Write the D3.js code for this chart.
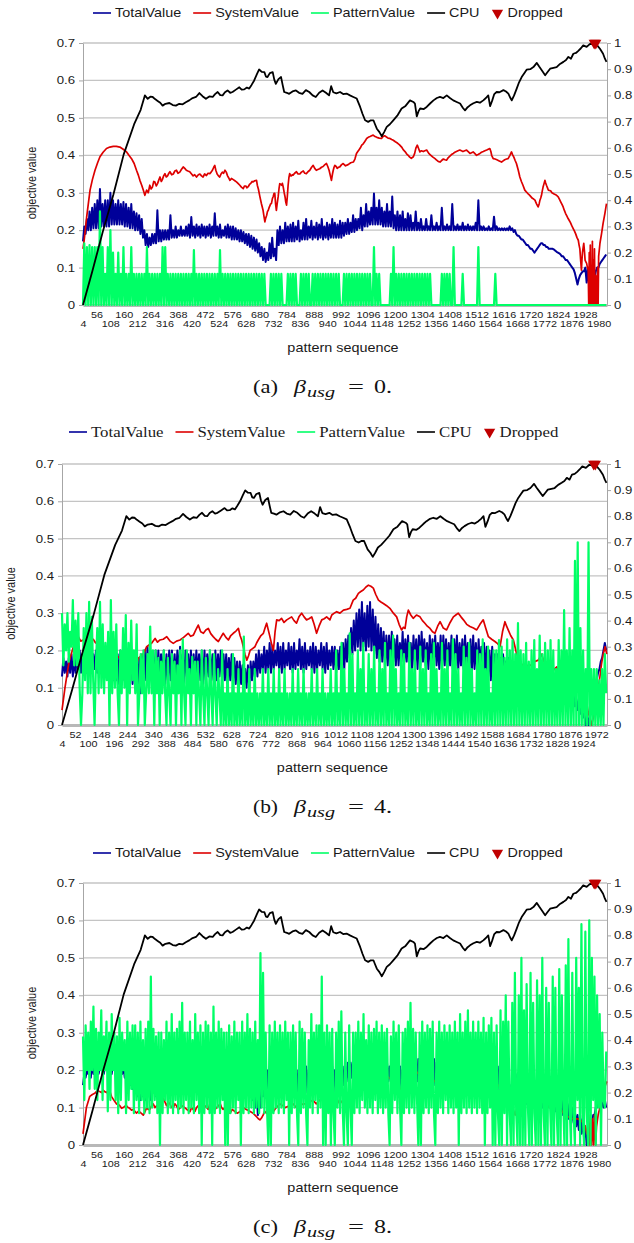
<!DOCTYPE html>
<html>
<head>
<meta charset="utf-8">
<script src="https://cdn.jsdelivr.net/npm/d3@7"></script>
<style>
  body { margin: 0; background: #fff; }
  svg { display: block; }
</style>
</head>
<body>
<svg id="chart" width="634" height="1243"></svg>
<script>
// ---------------------------------------------------------------
// Data. Categories are pattern sequence numbers (4 .. ~2010).
// Left axis: objective value (0 .. 0.7); right axis: CPU (0 .. 1).
// Dense series are sampled every 5 patterns starting at pattern 4
// (one row = 200 patterns).
// ---------------------------------------------------------------
const seriesNames = ["TotalValue", "SystemValue", "PatternValue", "CPU", "Dropped"];
const leftTicks = [0, .1, .2, .3, .4, .5, .6, .7];
const rightTicks = [0, .1, .2, .3, .4, .5, .6, .7, .8, .9, 1];
const ticksAC = [4,56,108,160,212,264,316,368,420,472,524,576,628,680,732,784,836,888,940,992,1044,1096,1148,1200,1252,1304,1356,1408,1460,1512,1564,1616,1668,1720,1772,1824,1876,1928,1980];
const ticksB = [4,52,100,148,196,244,292,340,388,436,484,532,580,628,676,724,772,820,868,916,964,1012,1060,1108,1156,1204,1252,1300,1348,1396,1444,1492,1540,1588,1636,1684,1732,1780,1828,1876,1924,1972];

// CPU load (right axis), identical in the three runs: [pattern, load]
const cpuPoints = [[4,0],[40,.13],[80,.28],[120,.42],[160,.575],[200,.69],[225,.745],[241,.8],[252,.787],[262,.795],[271,.794],[280,.786],[290,.779],[300,.772],[309,.761],[320,.768],[335,.771],[348,.763],[360,.761],[373,.768],[386,.766],[398,.774],[411,.781],[424,.79],[437,.794],[450,.809],[462,.797],[475,.787],[488,.796],[501,.794],[510,.805],[520,.813],[530,.801],[539,.8],[548,.812],[558,.819],[568,.81],[577,.813],[590,.822],[603,.831],[612,.822],[622,.823],[632,.83],[641,.826],[650,.84],[660,.857],[670,.88],[679,.899],[689,.89],[699,.889],[705,.872],[711,.87],[720,.885],[731,.889],[737,.86],[743,.844],[753,.862],[763,.87],[769,.84],[775,.813],[785,.81],[794,.806],[807,.815],[820,.819],[832,.81],[845,.806],[858,.82],[871,.813],[884,.8],[896,.794],[909,.81],[922,.819],[935,.81],[947,.8],[955,.835],[963,.812],[975,.808],[989,.813],[1001,.805],[1014,.807],[1027,.8],[1040,.794],[1053,.788],[1066,.756],[1075,.73],[1085,.705],[1097,.699],[1107,.705],[1117,.705],[1123,.69],[1130,.673],[1140,.66],[1149,.644],[1158,.66],[1168,.68],[1180,.69],[1193,.705],[1210,.725],[1225,.75],[1240,.76],[1257,.781],[1270,.775],[1276,.769],[1283,.72],[1290,.74],[1296,.75],[1310,.748],[1321,.756],[1335,.77],[1347,.781],[1360,.79],[1372,.794],[1385,.79],[1398,.8],[1410,.79],[1423,.781],[1436,.775],[1449,.769],[1460,.752],[1468,.743],[1478,.755],[1487,.762],[1500,.77],[1513,.775],[1525,.772],[1538,.781],[1548,.79],[1557,.8],[1564,.759],[1572,.78],[1580,.805],[1589,.813],[1600,.812],[1615,.82],[1625,.815],[1634,.807],[1642,.79],[1647,.781],[1656,.8],[1666,.826],[1675,.85],[1685,.87],[1695,.885],[1704,.898],[1718,.9],[1730,.908],[1743,.924],[1752,.91],[1762,.896],[1775,.877],[1785,.89],[1794,.902],[1807,.905],[1819,.908],[1832,.92],[1845,.928],[1855,.935],[1864,.947],[1874,.94],[1883,.959],[1893,.962],[1902,.97],[1912,.98],[1921,.991],[1934,.985],[1947,.997],[1958,.995],[1966,1],[1975,.99],[1985,.978],[1997,.959],[2004,.94],[2010,.928]];

// patterns dropped (drawn at full CPU load)
const droppedPatterns = [1963, 1969];

// ----- run (a), beta_usg = 0 -----
const totalA = [
  .17,.21,.19,.23,.2,.25,.2,.26,.205,.27, .205,.28,.205,.31,.21,.27,.21,.28,.21,.28, .21,.3,.215,.28,.215,.27,.215,.28,.215,.27, .215,.275,.21,.27,.21,.26,.205,.27,.205,.25,
  .2,.245,.2,.24,.19,.23,.18,.2,.16,.19, .155,.18,.16,.19,.165,.19,.165,.253,.17,.2, .17,.2,.175,.2,.175,.2,.175,.24,.18,.2, .18,.21,.18,.2,.185,.21,.185,.2,.185,.21,
  .185,.215,.18,.235,.185,.21,.18,.215,.185,.21, .18,.215,.185,.21,.18,.21,.185,.215,.18,.21, .185,.245,.185,.21,.18,.215,.18,.2,.185,.21, .18,.215,.18,.21,.175,.21,.175,.205,.175,.2,
  .17,.2,.17,.195,.165,.19,.16,.19,.155,.185, .15,.18,.145,.175,.14,.165,.13,.155,.12,.15, .115,.14,.12,.165,.125,.18,.13,.15,.12,.2, .16,.21,.165,.2,.165,.22,.17,.21,.17,.215,
  .17,.22,.17,.21,.175,.225,.17,.2,.175,.22, .175,.23,.175,.21,.18,.225,.175,.21,.18,.22, .175,.215,.18,.23,.175,.21,.18,.22,.175,.215, .18,.23,.18,.22,.18,.215,.18,.225,.18,.22,
  .185,.22,.19,.23,.19,.22,.195,.24,.195,.23, .2,.23,.205,.26,.2,.24,.21,.27,.21,.25, .215,.26,.215,.298,.215,.26,.215,.28,.215,.26, .21,.25,.21,.27,.21,.25,.21,.29,.205,.24,
  .2,.25,.2,.24,.2,.25,.2,.23,.2,.245, .2,.24,.2,.22,.2,.25,.2,.22,.2,.23, .2,.21,.2,.23,.2,.21,.2,.24,.2,.21, .2,.22,.2,.21,.2,.26,.2,.21,.2,.215,
  .2,.21,.2,.27,.2,.21,.2,.215,.2,.21, .2,.22,.2,.21,.2,.215,.2,.21,.2,.21, .2,.22,.2,.28,.2,.21,.2,.21,.2,.205, .2,.21,.2,.205,.2,.236,.2,.21,.2,.205,
  .2,.205,.2,.205,.2,.205,.2,.21,.2,.205, .195,.2,.19,.185,.185,.18,.175,.175,.17,.165, .16,.16,.155,.15,.15,.145,.14,.145,.15,.155, .16,.165,.165,.16,.16,.155,.155,.15,.15,.15,
  .15,.148,.145,.142,.14,.138,.135,.13,.13,.125, .12,.12,.115,.11,.105,.1,.095,.085,.07,.055, .07,.08,.085,.09,.09,.1,.06,.1,.05,.09, .06,.1,.07,.09,.1,.1,.11,.115,.12,.125,
  .13,.135];
const systemA = [[4,.15],[8,.17],[18,.235],[31,.307],[40,.335],[50,.36],[60,.38],[69,.396],[81,.408],[94,.418],[107,.422],[120,.424],[132,.424],[145,.422],[158,.416],[171,.409],[180,.4],[190,.391],[200,.378],[209,.36],[216,.347],[222,.333],[229,.32],[235,.307],[241,.293],[248,.307],[254,.3],[260,.32],[265,.31],[270,.315],[275,.33],[279,.329],[285,.318],[290,.325],[295,.335],[299,.342],[304,.33],[308,.335],[313,.345],[318,.351],[323,.342],[328,.345],[333,.352],[337,.356],[344,.348],[350,.35],[356,.358],[362,.36],[368,.352],[375,.355],[381,.362],[388,.369],[394,.365],[400,.36],[406,.358],[413,.356],[420,.35],[426,.345],[432,.348],[439,.342],[446,.348],[452,.35],[458,.345],[464,.342],[470,.35],[477,.346],[483,.352],[490,.351],[495,.355],[500,.36],[505,.368],[509,.373],[513,.36],[518,.35],[523,.345],[528,.342],[533,.35],[538,.355],[543,.352],[548,.36],[553,.355],[558,.345],[562,.34],[567,.333],[573,.338],[580,.335],[586,.332],[592,.329],[598,.325],[605,.32],[611,.315],[618,.311],[623,.318],[628,.318],[632,.313],[637,.316],[642,.322],[647,.325],[652,.33],[656,.329],[662,.332],[669,.333],[672,.32],[676,.31],[682,.289],[688,.27],[694,.253],[698,.235],[701,.222],[704,.232],[708,.24],[711,.25],[714,.253],[717,.26],[720,.265],[723,.27],[726,.271],[730,.285],[733,.29],[736,.298],[739,.298],[742,.27],[745,.253],[748,.27],[752,.29],[755,.31],[758,.324],[762,.322],[765,.32],[768,.325],[771,.316],[775,.3],[778,.29],[781,.275],[784,.267],[787,.29],[790,.32],[793,.34],[796,.351],[800,.345],[803,.345],[806,.348],[809,.347],[815,.352],[822,.356],[828,.35],[835,.35],[841,.355],[848,.358],[854,.352],[860,.351],[866,.356],[873,.36],[880,.368],[886,.373],[892,.365],[898,.36],[904,.362],[911,.364],[918,.368],[924,.37],[931,.375],[937,.378],[942,.37],[947,.36],[952,.345],[956,.333],[960,.35],[963,.36],[966,.368],[969,.373],[974,.37],[978,.365],[983,.368],[988,.369],[995,.375],[1001,.378],[1010,.372],[1020,.375],[1030,.38],[1040,.382],[1046,.39],[1052,.405],[1057,.41],[1062,.415],[1067,.42],[1072,.427],[1077,.43],[1082,.435],[1087,.44],[1091,.445],[1097,.448],[1104,.45],[1110,.452],[1116,.454],[1123,.45],[1130,.448],[1139,.446],[1148,.445],[1154,.45],[1160,.452],[1167,.449],[1173,.446],[1180,.445],[1187,.442],[1193,.44],[1201,.436],[1210,.432],[1217,.428],[1225,.422],[1231,.415],[1238,.41],[1244,.404],[1250,.4],[1256,.395],[1262,.392],[1266,.394],[1270,.396],[1275,.405],[1280,.42],[1285,.427],[1290,.418],[1295,.409],[1301,.412],[1308,.41],[1314,.412],[1321,.414],[1329,.405],[1337,.4],[1345,.395],[1353,.391],[1358,.388],[1363,.385],[1368,.383],[1372,.382],[1378,.386],[1385,.39],[1391,.388],[1397,.387],[1404,.394],[1410,.398],[1416,.402],[1423,.405],[1429,.408],[1435,.41],[1441,.412],[1448,.414],[1454,.412],[1460,.41],[1467,.412],[1474,.414],[1480,.41],[1487,.405],[1493,.407],[1499,.409],[1505,.405],[1512,.4],[1518,.402],[1525,.405],[1531,.408],[1538,.41],[1544,.412],[1551,.414],[1557,.416],[1563,.418],[1567,.41],[1570,.4],[1576,.391],[1583,.39],[1590,.388],[1599,.385],[1608,.382],[1614,.385],[1620,.388],[1627,.39],[1633,.391],[1640,.4],[1646,.409],[1650,.402],[1655,.395],[1660,.386],[1665,.378],[1672,.36],[1678,.342],[1684,.33],[1690,.32],[1697,.307],[1702,.303],[1706,.3],[1711,.296],[1716,.293],[1721,.289],[1726,.285],[1731,.283],[1736,.28],[1739,.275],[1742,.27],[1745,.266],[1748,.262],[1752,.27],[1755,.28],[1758,.286],[1761,.293],[1764,.305],[1767,.315],[1771,.325],[1774,.333],[1777,.326],[1780,.32],[1784,.313],[1787,.307],[1792,.306],[1796,.305],[1801,.3],[1806,.298],[1811,.296],[1815,.295],[1820,.292],[1825,.289],[1830,.282],[1835,.275],[1840,.268],[1844,.262],[1849,.252],[1853,.245],[1858,.238],[1863,.231],[1868,.225],[1872,.22],[1877,.212],[1882,.205],[1887,.198],[1892,.19],[1897,.18],[1902,.173],[1905,.16],[1908,.15],[1911,.12],[1914,.093],[1916,.12],[1918,.14],[1921,.155],[1923,.165],[1926,.14],[1928,.12],[1931,.115],[1934,.111],[1937,.1],[1940,.093],[1942,0],[1944,.14],[1946,0],[1948,.16],[1950,0],[1952,.09],[1954,0],[1956,.17],[1958,0],[1960,.12],[1962,0],[1964,.15],[1966,0],[1968,.08],[1970,0],[1972,.076],[1974,0],[1976,.1],[1978,0],[1980,.13],[1985,.165],[1991,.19],[1997,.218],[2004,.245],[2010,.271]];
const patternA = [
  0,.165,0,.155,0,.16,0,.155,0,.155, 0,.155,0,.25,0,.155,0,.083,0,.155, 0,.2,0,.14,0,.083,0,.14,0,.083, 0,.155,0,.083,0,.083,0,.155,0,.083,
  0,.083,0,.083,0,.083,0,.083,0,.155, 0,.083,0,.083,0,.083,0,.083,0,.083, 0,.155,0,.155,0,.083,0,.083,0,.083, 0,.083,0,.083,0,.083,0,.083,0,.083,
  0,.083,0,.083,0,.147,0,.083,0,.083, 0,.083,0,.083,0,.083,0,.083,0,.083, 0,.083,0,.083,0,.147,0,.083,0,.083, 0,.083,0,.083,0,.083,0,.083,0,.083,
  0,.083,0,.083,0,.083,0,.083,0,.083, 0,.083,0,.083,0,.083,0,.083,0,.083, 0,0,0,0,.083,0,.083,0,.083,0, .083,0,.083,0,0,0,0,.083,0,.083,
  0,.083,0,.083,0,0,0,.083,0,.083, 0,.083,0,.083,0,0,.083,0,.083,0, .083,0,.083,0,.083,0,.083,0,.083,0, .083,0,.083,0,.083,0,.083,0,0,0,
  .083,0,.083,0,.083,0,.083,0,.083,0, .083,0,.083,0,.083,0,.083,0,.083,0, .083,0,0,.155,0,.083,0,.083,0,0, 0,0,0,0,0,0,.083,0,.155,0,
  .083,0,.083,0,.083,0,.083,0,.083,0, .083,0,.083,0,.083,0,.083,0,.083,0, .083,0,.083,0,.083,0,.083,0,0,0, 0,0,0,0,0,.083,0,.083,0,.083,
  0,.083,0,0,.155,0,0,0,0,0, 0,.083,0,0,0,0,0,0,0,0, 0,0,0,.155,0,0,0,0,0,0, 0,0,0,0,0,0,.083,0,0,0,
  0,0,0,0,0,0,0,0,0,0, 0,0,0,0,0,0,0,0,0,0, 0,0,0,0,0,0,0,0,0,0, 0,0,0,0,0,0,0,0,0,0,
  0,0,0,0,0,0,0,0,0,0, 0,0,0,0,0,0,0,0,0,0, 0,0,0,0,0,0,0,0,0,0, 0,0,0,0,0,0,0,0,0,0,
  0,0];

// ----- run (b), beta_usg = 4 -----
const totalB = [
  .13,.18,.14,.17,.13,.18,.14,.19,.13,.18, .14,.19,.15,.2,.14,.19,.15,.2,.14,.19, .15,.2,.14,.19,.15,.2,.14,.19,.15,.2, .13,.19,.14,.2,.13,.19,.14,.19,.12,.18,
  .12,.19,.11,.2,.13,.19,.12,.18,.11,.19, .12,.2,.11,.19,.12,.19,.1,.18,.085,.19, .11,.2,.12,.21,.12,.2,.13,.19,.11,.2, .12,.2,.13,.19,.12,.2,.11,.19,.12,.2,
  .12,.2,.11,.19,.12,.2,.13,.21,.12,.19, .11,.2,.13,.19,.12,.2,.11,.19,.12,.2, .13,.19,.12,.2,.11,.2,.12,.19,.13,.2, .12,.19,.11,.2,.12,.19,.13,.2,.12,.19,
  .12,.19,.11,.18,.12,.19,.11,.18,.11,.17, .1,.17,.11,.16,.1,.15,.1,.16,.1,.17, .12,.17,.13,.19,.13,.2,.14,.19,.15,.21, .14,.2,.15,.22,.14,.21,.15,.2,.16,.22,
  .15,.21,.14,.22,.15,.2,.16,.22,.15,.21, .14,.22,.15,.2,.16,.23,.15,.21,.14,.22, .15,.2,.16,.21,.15,.22,.14,.21,.15,.2, .16,.22,.15,.21,.14,.22,.15,.2,.16,.21,
  .15,.21,.14,.2,.15,.21,.14,.22,.15,.23, .17,.24,.18,.26,.19,.28,.2,.3,.21,.31, .2,.33,.21,.3,.2,.32,.21,.33,.2,.31, .19,.29,.18,.27,.17,.26,.17,.25,.16,.24,
  .16,.24,.16,.25,.17,.23,.16,.24,.16,.22, .17,.25,.16,.23,.17,.24,.16,.22,.15,.24, .16,.23,.15,.24,.16,.25,.17,.23,.16,.22, .15,.24,.16,.23,.17,.24,.16,.22,.15,.24,
  .15,.24,.16,.23,.15,.22,.16,.24,.15,.23, .16,.24,.15,.22,.16,.23,.15,.24,.16,.22, .15,.23,.14,.24,.15,.22,.14,.23,.15,.21, .14,.22,.13,.21,.13,.2,.12,.21,.12,.19,
  .12,.19,.13,.18,.12,.19,.13,.17,.12,.18, .12,.16,.11,.15,.1,.15,.1,.14,.09,.13, .09,.12,.08,.12,.085,.11,.09,.12,.085,.11, .09,.12,.08,.11,.09,.12,.08,.11,.09,.12,
  .09,.12,.08,.11,.09,.12,.08,.1,.07,.1, .07,.09,.06,.09,.06,.08,.05,.08,.05,.07, .04,.07,.03,.05,.02,.03,0,.02,0,.03, .05,.07,.08,.1,.12,.14,.15,.17,.18,.2,
  .22,.2];
const systemB = [[4,.04],[15,.1],[30,.17],[46,.21],[55,.225],[64,.237],[73,.225],[82,.228],[92,.22],[101,.224],[110,.232],[119,.23],[128,.22],[137,.224],[146,.215],[156,.21],[165,.205],[174,.2],[183,.195],[193,.19],[205,.185],[217,.18],[226,.17],[236,.165],[245,.16],[254,.156],[263,.158],[273,.152],[279,.165],[285,.179],[294,.185],[304,.19],[310,.2],[316,.21],[325,.215],[334,.219],[340,.225],[347,.232],[356,.222],[365,.228],[377,.23],[390,.237],[402,.225],[414,.219],[426,.225],[439,.228],[452,.235],[469,.246],[478,.238],[488,.241],[497,.255],[506,.268],[515,.25],[525,.246],[534,.255],[543,.259],[552,.245],[561,.237],[570,.23],[580,.224],[589,.235],[598,.246],[608,.235],[617,.228],[626,.24],[635,.246],[645,.252],[654,.259],[660,.24],[666,.228],[672,.21],[678,.19],[685,.174],[691,.185],[697,.2],[706,.205],[715,.21],[721,.22],[727,.228],[737,.24],[746,.246],[752,.26],[758,.273],[764,.255],[770,.237],[777,.215],[783,.2],[789,.25],[795,.282],[804,.28],[813,.286],[822,.275],[832,.282],[841,.286],[850,.29],[859,.28],[868,.273],[877,.29],[887,.3],[896,.29],[905,.282],[914,.285],[924,.29],[933,.27],[942,.246],[951,.265],[961,.282],[970,.285],[979,.29],[991,.282],[998,.295],[1007,.3],[1016,.304],[1028,.3],[1041,.308],[1053,.31],[1065,.313],[1077,.335],[1086,.34],[1096,.353],[1105,.358],[1114,.362],[1124,.37],[1133,.375],[1142,.372],[1151,.367],[1160,.35],[1170,.335],[1179,.33],[1188,.326],[1200,.32],[1212,.313],[1225,.3],[1237,.29],[1246,.27],[1255,.255],[1262,.262],[1268,.259],[1274,.29],[1280,.308],[1289,.295],[1298,.286],[1310,.295],[1323,.29],[1332,.28],[1341,.273],[1350,.265],[1360,.259],[1369,.25],[1378,.246],[1388,.265],[1397,.277],[1409,.26],[1421,.255],[1434,.275],[1446,.29],[1455,.295],[1464,.3],[1474,.29],[1483,.282],[1495,.27],[1507,.264],[1520,.26],[1532,.255],[1544,.27],[1556,.282],[1565,.26],[1575,.237],[1587,.23],[1599,.224],[1609,.218],[1618,.21],[1627,.25],[1636,.277],[1642,.265],[1648,.255],[1657,.24],[1667,.228],[1673,.21],[1679,.19],[1692,.17],[1710,.15],[1720,.16],[1730,.16],[1745,.17],[1759,.174],[1771,.19],[1780,.17],[1790,.152],[1799,.145],[1808,.139],[1818,.15],[1827,.156],[1833,.14],[1839,.13],[1851,.125],[1863,.121],[1870,.14],[1876,.15],[1888,.12],[1900,.1],[1912,.09],[1925,.076],[1937,.06],[1944,.03],[1950,.02],[1955,0],[1962,.02],[1968,.04],[1974,.07],[1980,.1],[1986,.13],[1992,.165],[1998,.19],[2005,.21],[2011,.19]];
const patternB = [
  .3,.16,.27,.2,.3,.17,.25,.21,.335,.16, .28,.16,.3,.1,0,.085,.26,.12,.3,.085, .33,.085,.29,.12,0,.16,.26,.085,.33,.1, .27,.085,.22,.12,.25,0,.335,.085,.25,.1,
  .27,.085,0,.2,.085,.26,.1,.295,0,.22, .085,.28,.12,.2,.085,.27,0,.085,.19,.085, .2,0,.085,.19,.085,.264,.085,.2,0,.2, .085,.18,0,.17,.085,.2,.085,0,.18,.085,
  0,.19,.085,.17,0,.16,.085,.2,0,.23, .085,0,.2,.085,.15,0,.183,.085,.17,0, .17,.085,0,.2,.085,0,.18,.085,0,.2, .085,0,.19,.085,0,.15,.085,0,.2,0,
  .085,0,.15,0,.085,0,.19,0,.085,0, .15,0,.085,0,.237,0,.085,0,.15,0, .085,0,.15,0,.085,0,.085,0,.15,0, .085,0,.15,0,.085,0,.15,0,.085,0,
  .15,0,.085,0,.15,0,.085,0,.085,0, .15,0,.085,0,.15,0,.085,0,.15,0, .085,0,.085,0,.15,0,.085,0,.15,0, .085,0,.15,0,.085,0,.085,0,.15,0,
  .085,0,.2,0,.085,0,.22,0,.15,0, .085,0,.246,0,.19,0,.085,0,.2,0, .15,0,.22,0,.085,0,.19,0,.15,0, .21,0,.085,0,.2,0,.15,0,.22,0,
  .085,0,.2,0,.24,0,.15,0,.085,0, .2,0,.19,0,.085,0,.22,0,.15,0, .2,0,.085,0,.21,0,.15,0,.2,0, .085,0,.19,0,.22,0,.15,0,.085,0,
  .22,0,.15,0,.2,0,.085,0,.23,0, .19,0,.15,0,.085,0,.21,0,.18,0, .22,0,.15,0,.085,0,.2,0,.19,0, .23,0,.15,0,.21,0,.085,0,.2,0,
  .2,0,.228,0,.21,0,.18,0,.23,0, .2,0,.228,0,.19,0,.273,0,.2,0, .19,0,.22,0,.17,0,.2,0,.228,0, .15,0,.24,0,.19,0,.22,0,.2,0,
  .228,0,.2,0,.15,0,.228,0,.2,0, .308,0,.2,0,.26,0,.2,0,.44,0, .49,0,.26,0,.2,0,.15,0,.49,0, .15,0,.15,0,.15,0,.12,0,.15,0,
  .19,.085];

// ----- run (c), beta_usg = 8 -----
const totalC = [
  .16,.19,.18,.2,.19,.21,.18,.22,.19,.21, .2,.22,.19,.21,.2,.22,.19,.215,.2,.22, .2,.236,.19,.22,.2,.21,.19,.22,.185,.215, .19,.21,.18,.2,.17,.205,.16,.2,.15,.2,
  .14,.19,.13,.18,.12,.2,.13,.19,.12,.2, .13,.21,.12,.19,.14,.2,.13,.21,.14,.2, .15,.21,.14,.2,.15,.21,.14,.2,.15,.21, .14,.2,.15,.21,.14,.2,.15,.21,.14,.2,
  .14,.2,.15,.21,.14,.2,.15,.19,.14,.2, .15,.21,.14,.2,.15,.21,.14,.19,.15,.2, .14,.21,.15,.2,.14,.2,.15,.21,.14,.2, .15,.19,.14,.2,.15,.21,.14,.2,.15,.2,
  .14,.2,.15,.21,.14,.2,.15,.19,.13,.18, .12,.17,.1,.15,.08,.12,.1,.16,.13,.19, .14,.2,.15,.21,.14,.2,.15,.21,.14,.2, .15,.21,.14,.2,.15,.21,.14,.2,.15,.21,
  .14,.2,.15,.21,.14,.2,.15,.21,.14,.2, .15,.21,.14,.2,.15,.21,.14,.2,.15,.21, .14,.2,.15,.21,.14,.2,.15,.21,.14,.2, .15,.21,.14,.2,.15,.21,.15,.21,.16,.21,
  .16,.21,.17,.22,.17,.22,.18,.23,.18,.23, .19,.24,.2,.25,.21,.26,.21,.25,.2,.26, .21,.25,.2,.24,.2,.24,.19,.23,.19,.23, .18,.22,.18,.22,.17,.21,.17,.21,.16,.2,
  .16,.22,.15,.21,.15,.2,.14,.2,.16,.23, .17,.24,.17,.22,.16,.21,.17,.23,.16,.22, .17,.21,.16,.23,.17,.22,.16,.21,.17,.23, .16,.22,.17,.23,.16,.21,.17,.22,.16,.23,
  .17,.22,.16,.23,.17,.21,.16,.22,.17,.23, .16,.22,.17,.21,.16,.22,.17,.23,.16,.22, .17,.21,.16,.22,.17,.23,.16,.22,.17,.21, .16,.22,.17,.21,.16,.2,.15,.2,.15,.21,
  .14,.2,.14,.19,.13,.18,.12,.16,.1,.15, .12,.17,.13,.19,.12,.18,.13,.19,.12,.17, .11,.18,.12,.16,.11,.17,.12,.16,.11,.16, .11,.16,.1,.15,.1,.15,.1,.14,.1,.15,
  .1,.14,.09,.13,.1,.14,.09,.12,.08,.13, .07,.12,.07,.11,.06,.1,.06,.09,.05,.08, .04,.08,.03,.07,.02,.05,0,.04,.02,.05, .06,.08,.08,.1,.1,.12,.11,.12,.11,.1,
  .12,.1];
const systemC = [[4,.03],[17,.1],[30,.13],[40,.135],[49,.138],[58,.145],[68,.143],[75,.14],[81,.147],[88,.142],[94,.14],[100,.145],[105,.148],[113,.13],[122,.12],[132,.11],[140,.108],[145,.105],[152,.098],[158,.1],[165,.104],[170,.105],[177,.1],[183,.098],[190,.093],[196,.095],[203,.09],[209,.085],[216,.09],[222,.088],[229,.084],[235,.08],[242,.09],[248,.1],[254,.095],[260,.095],[267,.105],[273,.11],[280,.1],[286,.105],[293,.095],[299,.1],[305,.11],[312,.125],[318,.115],[324,.105],[331,.115],[337,.11],[344,.1],[350,.1],[356,.11],[362,.105],[369,.095],[375,.098],[383,.105],[390,.102],[402,.095],[414,.089],[420,.1],[426,.095],[433,.09],[439,.1],[446,.105],[452,.11],[458,.1],[465,.095],[471,.105],[478,.1],[484,.095],[490,.11],[497,.115],[503,.105],[510,.095],[516,.1],[523,.105],[530,.11],[535,.1],[541,.095],[548,.1],[555,.1],[561,.09],[567,.085],[576,.095],[585,.09],[595,.085],[605,.089],[618,.1],[630,.095],[643,.09],[656,.085],[663,.08],[670,.075],[676,.07],[682,.067],[688,.072],[694,.08],[700,.09],[707,.085],[714,.095],[720,.1],[726,.095],[733,.089],[739,.095],[745,.1],[752,.105],[758,.11],[770,.105],[780,.1],[795,.105],[809,.11],[822,.1],[835,.105],[848,.11],[860,.11],[872,.115],[885,.12],[898,.11],[911,.12],[923,.125],[935,.115],[948,.12],[962,.12],[976,.125],[988,.11],[1000,.12],[1016,.13],[1028,.14],[1040,.15],[1052,.16],[1065,.18],[1078,.2],[1091,.23],[1100,.235],[1110,.24],[1120,.23],[1130,.22],[1140,.21],[1150,.2],[1162,.19],[1175,.18],[1188,.175],[1200,.17],[1212,.16],[1225,.143],[1238,.14],[1250,.13],[1262,.16],[1276,.2],[1290,.19],[1305,.17],[1320,.16],[1335,.165],[1350,.17],[1365,.18],[1380,.175],[1390,.165],[1400,.17],[1415,.175],[1430,.18],[1445,.175],[1460,.17],[1475,.16],[1490,.165],[1505,.18],[1520,.19],[1535,.18],[1550,.17],[1565,.165],[1580,.17],[1595,.16],[1610,.15],[1625,.14],[1640,.13],[1650,.1],[1660,.08],[1670,.11],[1680,.13],[1690,.15],[1705,.16],[1718,.145],[1730,.13],[1745,.125],[1760,.12],[1775,.11],[1790,.1],[1805,.105],[1820,.11],[1835,.095],[1850,.08],[1865,.075],[1880,.07],[1900,.07],[1912,.065],[1920,.06],[1928,.05],[1935,.03],[1940,.06],[1944,0],[1948,.08],[1952,0],[1956,.07],[1960,0],[1964,.08],[1968,0],[1972,.05],[1978,.08],[1985,.1],[1992,.13],[2000,.15],[2006,.16],[2011,.17]];
const patternC = [
  .29,.12,.32,.2,.3,.15,.33,.2,.37,.15, .31,.12,.3,.2,.36,.12,.29,.2,.33,.09, .3,.12,.35,.2,.3,.12,.29,.085,.34,.12, .3,.2,.28,.085,.33,.12,.3,.15,.32,.085,
  .32,.12,.3,.085,.33,.12,.28,.085,.31,.1, .33,.085,.45,.1,.31,.12,.29,.085,.3,0, .3,.085,.28,.12,.33,.085,.3,.1,.35,.085, .3,.12,.31,.085,.33,.1,.38,.085,.3,.12,
  .3,.085,.33,.1,.28,.085,.35,.12,.3,.085, .32,0,.3,.085,.33,.1,.32,.085,.3,0, .37,.085,.3,.1,.33,.085,.31,.12,.3,0, .3,0,.32,.085,.29,.1,.33,.085,.3,.12,
  .3,0,.33,.085,.3,.1,.35,.085,.31,.1, .3,.085,.33,.1,.28,.085,.513,.1,.46,.085, .3,.1,0,.32,0,.3,.085,.33,.1,.3, .085,.32,.1,.3,.085,.33,.12,.3,0,.3,
  .085,.32,.1,.3,.085,0,.33,.085,.31,.1, .3,.085,0,.28,.1,.35,.085,.3,.12,.32, .085,.32,.1,.45,0,.3,0,.32,.085,.3, 0,.31,.085,0,.3,.1,.33,.085,.357,.1,
  0,.3,.085,0,.32,.1,0,.3,.085,.3, .1,.33,.085,.3,.12,.35,.1,.28,.085,.32, .1,.3,.085,.31,.12,.33,.085,.3,.1,.32, .085,.3,.1,.31,.085,0,.29,.085,.33,.12,
  .3,.085,.32,.1,0,.3,.085,.31,.1,.33, .085,.38,.1,.31,.085,.3,.12,0,.3,0, .33,.085,.3,.1,.32,.085,.31,.1,.33,.085, 0,.3,.085,.33,.1,.3,.085,.32,.12,.3,
  .085,.32,.1,.3,.085,.33,.1,.3,0,.35, .085,.3,.1,.33,.085,.36,.1,.3,.085,.33, .1,.3,.085,.33,.1,.3,.085,.34,0,.3, .085,.32,.1,.34,0,.3,0,.32,.085,0,
  .36,0,.33,.085,.4,0,.33,.085,0,.38, 0,.46,.085,0,.4,0,.5,0,.36,0, .43,.1,0,.46,0,.38,.085,0,.44,0, .4,0,.5,.085,0,.42,0,.38,.1,0,
  .45,0,.42,.085,0,.47,0,.4,.12,0, .48,0,.55,.1,0,.46,.085,0,.5,.12, .42,0,.59,.085,0,.57,.1,0,.6,0, .5,.12,.45,0,.4,.1,.35,0,.3,.12,
  .1,.25];

// ---------------------------------------------------------------
// Drawing
// ---------------------------------------------------------------
const SX = 1.2;                 // horizontal text widening used throughout
const SANS = "'Liberation Sans', Arial, sans-serif";
const SERIF = "'Liberation Serif', 'Times New Roman', serif";
const COLORS = { total: "#000099", system: "#dd0000", pattern: "#00ff66", cpu: "#000000", dropped: "#c00000" };
const AXIS_GRAY = "#a6a6a6";

const every5 = vals => vals.map((v, i) => [4 + 5 * i, v]);

const panels = [
  { tag: "a", beta: "0", total: every5(totalA), system: systemA, pattern: every5(patternA), ticks: ticksAC,
    left: 83, right: 607, top: 43, bottom: 305, legendX: 93, legendY: 13, legendFont: SANS, legendSize: 12, ylabelX: 31 },
  { tag: "b", beta: "4", total: every5(totalB), system: systemB, pattern: every5(patternB), ticks: ticksB,
    left: 62, right: 607, top: 464, bottom: 725, legendX: 69, legendY: 432, legendFont: SERIF, legendSize: 14, ylabelX: 10 },
  { tag: "c", beta: "8", total: every5(totalC), system: systemC, pattern: every5(patternC), ticks: ticksAC,
    left: 83, right: 607, top: 883, bottom: 1145, legendX: 93, legendY: 853, legendFont: SANS, legendSize: 12, ylabelX: 31 }
];

const svg = d3.select("#chart");
svg.append("rect").attr("width", 634).attr("height", 1243).attr("fill", "#fff");

const numFmt = d => (d === 0 ? "0" : d === 1 ? "1" : d3.format(".1f")(d));

function styleAxisText(axisG, xOff) {
  axisG.attr("font-family", SANS).attr("font-size", 11);
  axisG.selectAll(".tick text")
    .attr("x", xOff / SX)
    .attr("transform", `scale(${SX},1)`)
    .attr("fill", "#1a1a1a");
  axisG.select(".domain").attr("stroke", AXIS_GRAY);
  axisG.selectAll(".tick line").attr("stroke", AXIS_GRAY);
}

function drawPanel(p) {
  const g = svg.append("g");
  const x = d3.scaleLinear().domain([4, 2012]).range([p.left, p.right]);
  const y = d3.scaleLinear().domain([0, 0.7]).range([p.bottom, p.top]);
  const y2 = d3.scaleLinear().domain([0, 1]).range([p.bottom, p.top]);

  // horizontal gridlines
  g.append("g").selectAll("line").data(leftTicks.slice(1)).join("line")
    .attr("x1", p.left).attr("x2", p.right)
    .attr("y1", d => y(d)).attr("y2", d => y(d))
    .attr("stroke", "#c4c4c4").attr("stroke-width", 1.3);

  // left (objective value) axis
  const la = g.append("g").attr("transform", `translate(${p.left},0)`)
    .call(d3.axisLeft(y).tickValues(leftTicks).tickSize(4).tickSizeOuter(0).tickFormat(numFmt));
  styleAxisText(la, -8);

  // right (CPU) axis
  const ra = g.append("g").attr("transform", `translate(${p.right},0)`)
    .call(d3.axisRight(y2).tickValues(rightTicks).tickSize(4).tickSizeOuter(0).tickFormat(numFmt));
  styleAxisText(ra, 7);

  // category axis with labels on two alternating rows
  const xa = g.append("g").attr("transform", `translate(0,${p.bottom})`)
    .call(d3.axisBottom(x).tickValues(p.ticks).tickSize(0).tickSizeOuter(0).tickFormat(d => String(d)));
  xa.attr("font-family", SANS).attr("font-size", 9);
  xa.select(".domain").attr("stroke", "#b8b8b8").attr("stroke-width", 3);
  xa.selectAll(".tick text")
    .attr("y", (d, i) => (i % 2 ? 10 : 19))
    .attr("dy", "0.35em")
    .attr("transform", `scale(${SX},1)`)
    .attr("fill", "#1a1a1a");

  // series, in legend order
  const line = d3.line().x(d => x(d[0])).y(d => y(d[1]));
  const cpuLine = d3.line().x(d => x(d[0])).y(d => y2(d[1]));
  const plot = g.append("g").attr("fill", "none").attr("stroke-linejoin", "round");
  plot.append("path").datum(p.total).attr("d", line).attr("stroke", COLORS.total).attr("stroke-width", 2);
  plot.append("path").datum(p.system).attr("d", line).attr("stroke", COLORS.system).attr("stroke-width", 1.7);
  plot.append("path").datum(p.pattern).attr("d", line).attr("stroke", COLORS.pattern).attr("stroke-width", 2.2);
  plot.append("path").datum(cpuPoints).attr("d", cpuLine).attr("stroke", COLORS.cpu).attr("stroke-width", 1.8);

  // dropped patterns
  g.append("g").selectAll("path").data(droppedPatterns).join("path")
    .attr("d", d3.symbol(d3.symbolTriangle, 55))
    .attr("transform", d => `translate(${x(d)},${y2(1)}) rotate(180)`)
    .attr("fill", COLORS.dropped);

  // axis titles
  svg.append("text")
    .attr("transform", `translate(${(p.left + p.right) / 2 - 2},${p.bottom + 43}) scale(${SX},1)`)
    .attr("text-anchor", "middle").attr("dy", "0.35em")
    .attr("font-family", SANS).attr("font-size", 12).attr("fill", "#1a1a1a")
    .text("pattern sequence");
  svg.append("text")
    .attr("transform", `translate(${p.ylabelX},${(p.top + p.bottom) / 2 + 9}) scale(${SX},1) rotate(-90)`)
    .attr("text-anchor", "middle").attr("dy", "0.35em")
    .attr("font-family", SANS).attr("font-size", 11).attr("fill", "#1a1a1a")
    .text("objective value");

  // legend
  const lg = svg.append("g").attr("font-family", p.legendFont).attr("font-size", p.legendSize);
  const items = [
    { name: seriesNames[0], color: COLORS.total },
    { name: seriesNames[1], color: COLORS.system },
    { name: seriesNames[2], color: COLORS.pattern },
    { name: seriesNames[3], color: COLORS.cpu },
    { name: seriesNames[4], color: COLORS.dropped, marker: true }
  ];
  let cx = p.legendX;
  items.forEach(it => {
    if (it.marker) {
      lg.append("path").attr("d", d3.symbol(d3.symbolTriangle, 55)())
        .attr("transform", `translate(${cx + 6},${p.legendY}) rotate(180)`)
        .attr("fill", it.color);
      cx += 16;
    } else {
      lg.append("line").attr("x1", cx).attr("x2", cx + 18)
        .attr("y1", p.legendY).attr("y2", p.legendY)
        .attr("stroke", it.color).attr("stroke-width", 1.6);
      cx += 22;
    }
    const t = lg.append("text")
      .attr("transform", `translate(${cx},${p.legendY}) scale(${SX},1)`)
      .attr("dy", "0.35em").attr("fill", "#1a1a1a").text(it.name);
    cx += t.node().getComputedTextLength() * SX + 12;
  });

  // caption
  const capY = p.bottom + 88;
  const cap = svg.append("g").attr("font-family", SERIF).attr("fill", "#111");
  const piece = (txt, px, w, size, italic, dy) =>
    cap.append("text").attr("x", px).attr("y", capY + dy)
      .attr("font-size", size).attr("font-style", italic ? "italic" : "normal")
      .attr("textLength", w).attr("lengthAdjust", "spacingAndGlyphs").text(txt);
  piece(`(${p.tag})`, 253, 25, 18, false, 0);
  piece("β", 294, 12, 18, true, 0);
  piece("usg", 307, 28, 14, true, 4);
  piece("=", 348, 16, 18, false, 0);
  piece(`${p.beta}.`, 374, 18, 18, false, 0);
}

panels.forEach(drawPanel);
</script>
</body>
</html>
